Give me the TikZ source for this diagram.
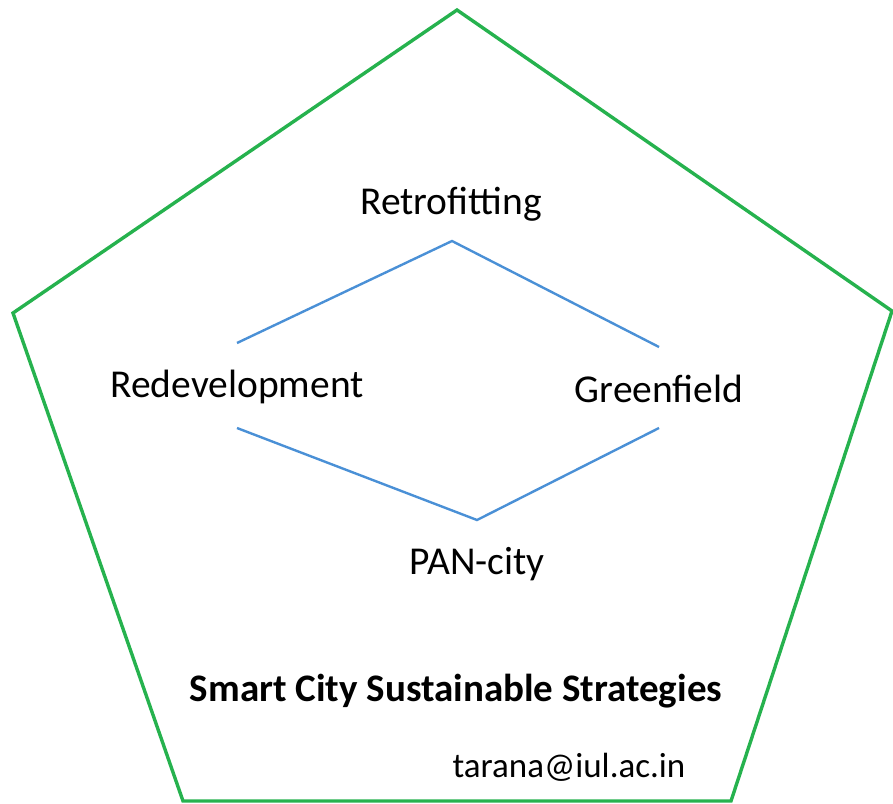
\documentclass[tikz,border=0pt]{standalone}
\usepackage{fontspec}
\setmainfont{Carlito}
\usepackage{tikz}

\definecolor{penta}{RGB}{38,178,78}
\definecolor{link}{RGB}{74,144,214}

\begin{document}
\begin{tikzpicture}[x=1pt,y=-1pt,
    label/.style={font=\fontsize{39.5}{42}\selectfont, inner sep=0pt},
    link/.style={draw=link, line width=2.4pt}]
    \useasboundingbox (0,0) rectangle (893,803);

    % outer pentagon
    \draw[penta, line width=3.4pt, line join=miter]
        (457,10) -- (892,311) -- (731,801) -- (183,801) -- (13,313) -- cycle;

    % strategy labels
    \node[label] (retro) at (451,204) {Retrofitting};
    \node[label] (redev) at (237,387) {Redevelopment};
    \node[label] (green) at (659,389) {Greenfield};
    \node[label] (pan)   at (477,564) {PAN-city};

    % apex points of the two blue arms
    \coordinate (topc) at (452,241);
    \coordinate (botc) at (477,520);

    \draw[link] ([yshift=44pt]redev.center) -- (topc) -- ([yshift=42pt]green.center);
    \draw[link] ([yshift=-41pt]redev.center) -- (botc) -- ([yshift=-39pt]green.center);

    % footer
    \node[label, font=\fontsize{39}{42}\selectfont\bfseries] (title) at (456,691) {Smart City Sustainable Strategies};
    \node[label, font=\fontsize{35}{38}\selectfont] (mail) at (569,767) {tarana@iul.ac.in};
\end{tikzpicture}
\end{document}
